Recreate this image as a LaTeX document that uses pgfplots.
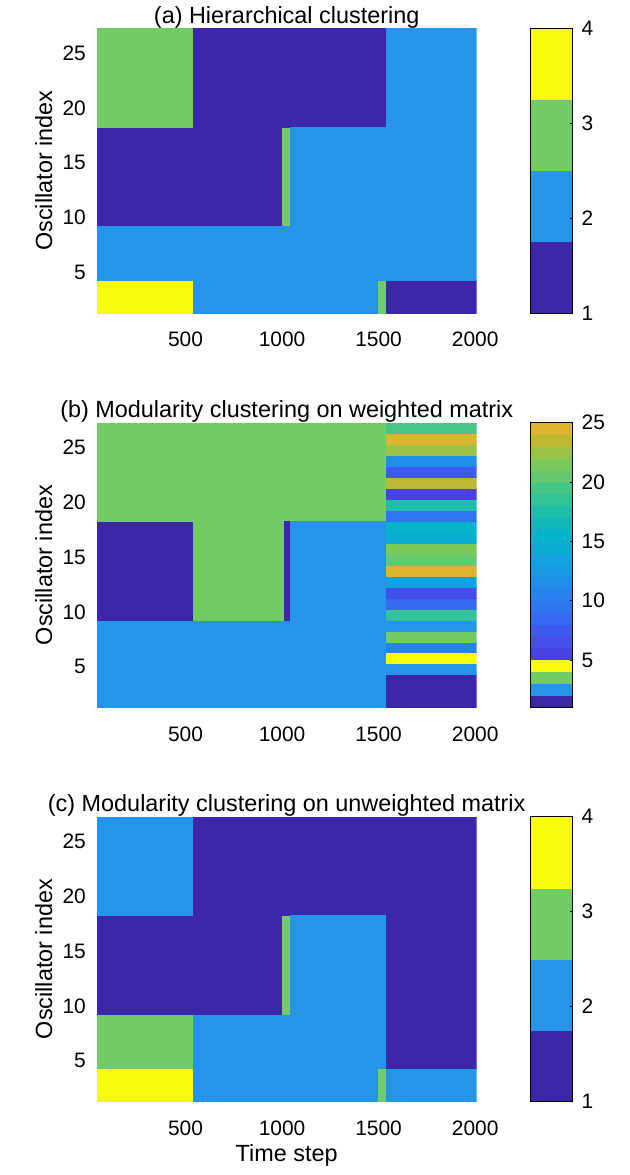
\documentclass[border=0pt]{standalone}
\usepackage{fontspec}
\setmainfont{Liberation Sans}
\usepackage{pgfplots}
\usepackage{pgfplotstable}
\pgfplotsset{compat=1.18}
\usepgfplotslibrary{patchplots}

\newcommand{\tickfont}{\fontsize{21}{24}\selectfont}
\newcommand{\labfont}{\fontsize{23.5}{27}\selectfont}

% cluster maps: one rectangle = 4 corners, c = cluster label
\pgfplotstableread{
x y c
40 1 4
540 1 4
540 4 4
40 4 4
40 4 2
540 4 2
540 9 2
40 9 2
40 9 1
540 9 1
540 18 1
40 18 1
40 18 3
540 18 3
540 27 3
40 27 3
540 1 2
1000 1 2
1000 9 2
540 9 2
540 9 1
1000 9 1
1000 27 1
540 27 1
1000 1 2
1040 1 2
1040 9 2
1000 9 2
1000 9 3
1040 9 3
1040 18 3
1000 18 3
1000 18 1
1540 18 1
1540 27 1
1000 27 1
1040 1 2
1500 1 2
1500 18 2
1040 18 2
1500 1 3
1540 1 3
1540 4 3
1500 4 3
1500 4 2
1540 4 2
1540 18 2
1500 18 2
1540 1 1
2008 1 1
2008 4 1
1540 4 1
1540 4 2
2008 4 2
2008 27 2
1540 27 2
}\dataA

\pgfplotstableread{
x y c
40 1 2
540 1 2
540 9 2
40 9 2
40 9 1
540 9 1
540 18 1
40 18 1
40 18 3
1540 18 3
1540 27 3
40 27 3
540 1 2
1540 1 2
1540 9 2
540 9 2
540 9 3
1010 9 3
1010 18 3
540 18 3
1010 9 1
1040 9 1
1040 18 1
1010 18 1
1040 9 2
1540 9 2
1540 18 2
1040 18 2
1540 1 1
2008 1 1
2008 4 1
1540 4 1
1540 4 2
2008 4 2
2008 5 2
1540 5 2
1540 5 4
2008 5 4
2008 6 4
1540 6 4
1540 6 10
2008 6 10
2008 7 10
1540 7 10
1540 7 3
2008 7 3
2008 8 3
1540 8 3
1540 8 2
2008 8 2
2008 9 2
1540 9 2
1540 9 18
2008 9 18
2008 10 18
1540 10 18
1540 10 8
2008 10 8
2008 11 8
1540 11 8
1540 11 6
2008 11 6
2008 12 6
1540 12 6
1540 12 13
2008 12 13
2008 13 13
1540 13 13
1540 13 24
2008 13 24
2008 14 24
1540 14 24
1540 14 20
2008 14 20
2008 15 20
1540 15 20
1540 15 21
2008 15 21
2008 16 21
1540 16 21
1540 16 14
2008 16 14
2008 17 14
1540 17 14
1540 17 15
2008 17 15
2008 18 15
1540 18 15
1540 18 9
2008 18 9
2008 19 9
1540 19 9
1540 19 17
2008 19 17
2008 20 17
1540 20 17
1540 20 5
2008 20 5
2008 21 5
1540 21 5
1540 21 23
2008 21 23
2008 22 23
1540 22 23
1540 22 7
2008 22 7
2008 23 7
1540 23 7
1540 23 11
2008 23 11
2008 24 11
1540 24 11
1540 24 22
2008 24 22
2008 25 22
1540 25 22
1540 25 24
2008 25 24
2008 26 24
1540 26 24
1540 26 19
2008 26 19
2008 27 19
1540 27 19
}\dataB

\pgfplotstableread{
x y c
40 1 4
540 1 4
540 4 4
40 4 4
40 4 3
540 4 3
540 9 3
40 9 3
40 9 1
540 9 1
540 18 1
40 18 1
40 18 2
540 18 2
540 27 2
40 27 2
540 1 2
1000 1 2
1000 9 2
540 9 2
540 9 1
1000 9 1
1000 27 1
540 27 1
1000 1 2
1040 1 2
1040 9 2
1000 9 2
1000 9 3
1040 9 3
1040 18 3
1000 18 3
1000 18 1
1540 18 1
1540 27 1
1000 27 1
1040 1 2
1500 1 2
1500 18 2
1040 18 2
1500 1 3
1540 1 3
1540 4 3
1500 4 3
1500 4 2
1540 4 2
1540 18 2
1500 18 2
1540 1 2
2008 1 2
2008 4 2
1540 4 2
1540 4 1
2008 4 1
2008 27 1
1540 27 1
}\dataC

\pgfplotsset{
  colormap={clA}{rgb255=(62,38,168) rgb255=(38,148,233) rgb255=(114,204,100)
    rgb255=(249,251,14)},
  colormap={clB}{rgb255=(62,38,168) rgb255=(38,148,233) rgb255=(114,204,100)
    rgb255=(249,251,14) rgb255=(72,66,225) rgb255=(68,78,232) rgb255=(62,90,238)
    rgb255=(55,104,242) rgb255=(45,118,240) rgb255=(38,130,236) rgb255=(32,142,232)
    rgb255=(25,152,228) rgb255=(18,163,222) rgb255=(10,172,212) rgb255=(5,180,200)
    rgb255=(15,185,185) rgb255=(30,190,170) rgb255=(50,195,150) rgb255=(70,198,135)
    rgb255=(100,200,110) rgb255=(125,200,90) rgb255=(155,195,70) rgb255=(190,185,50)
    rgb255=(220,180,45)},
  clpanel/.style={
    width=380bp, height=284.7bp, scale only axis,
    xmin=40, xmax=2008, ymin=1, ymax=27,
    xtick={500,1000,1500,2000}, ytick={5,10,15,20,25},
    axis line style={draw=none}, major tick length=0pt,
    tick label style={font=\tickfont},
    xticklabel style={anchor=base, yshift=-33.7bp},
    yticklabel style={anchor=east, inner sep=0pt, xshift=-10.7bp, yshift=-3bp},
    /pgf/number format/assume math mode=true,
    /pgf/number format/1000 sep={},
    ylabel={Oscillator index},
    every axis y label/.style={at={(axis description cs:-0.1176,0.5)},
      rotate=90, anchor=base, font=\labfont},
    every axis x label/.style={at={(axis description cs:0.5,-0.2107)},
      anchor=base, font=\labfont},
    every axis title/.style={at={(axis description cs:0.5,1.0176)},
      anchor=base, font=\labfont},
    colormap access=piecewise constant,
    colorbar,
    colorbar style={
      at={(parent axis.north east)}, anchor=north west, xshift=45bp,
      width=42.6bp, height=284.7bp, scale only axis,
      ytick pos=right, yticklabel pos=right,
      tick align=inside, major tick length=3bp,
      ytick style={black, line width=0.6bp},
      axis line style={draw=black, line width=0.8bp},
      yticklabel style={font=\tickfont, anchor=west, inner sep=0pt, xshift=8.7bp},
      /pgf/number format/assume math mode=true,
    },
  },
}

\begin{document}
\begin{tikzpicture}
\path[use as bounding box] (0,0) rectangle (630bp,-1175bp);

\begin{axis}[clpanel, at={(96.7bp,-28.3bp)}, anchor=north west,
  colormap name=clA, point meta min=1, point meta max=4,
  colorbar style={ytick={1,2,3,4}},
  title={(a) Hierarchical clustering}]
\addplot[patch, patch type=rectangle, shader=flat, point meta=explicit]
  table[x=x, y=y, meta=c] {\dataA};
\end{axis}

\begin{axis}[clpanel, at={(96.7bp,-422.7bp)}, anchor=north west,
  colormap name=clB, point meta min=1, point meta max=25,
  colorbar style={ytick={5,10,15,20,25}},
  title={(b) Modularity clustering on weighted matrix}]
\addplot[patch, patch type=rectangle, shader=flat, point meta=explicit]
  table[x=x, y=y, meta expr=\thisrow{c}+0.5] {\dataB};
\end{axis}

\begin{axis}[clpanel, at={(96.7bp,-816.7bp)}, anchor=north west,
  colormap name=clA, point meta min=1, point meta max=4,
  colorbar style={ytick={1,2,3,4}},
  title={(c) Modularity clustering on unweighted matrix},
  xlabel={Time step}]
\addplot[patch, patch type=rectangle, shader=flat, point meta=explicit]
  table[x=x, y=y, meta=c] {\dataC};
\end{axis}
\end{tikzpicture}
\end{document}
